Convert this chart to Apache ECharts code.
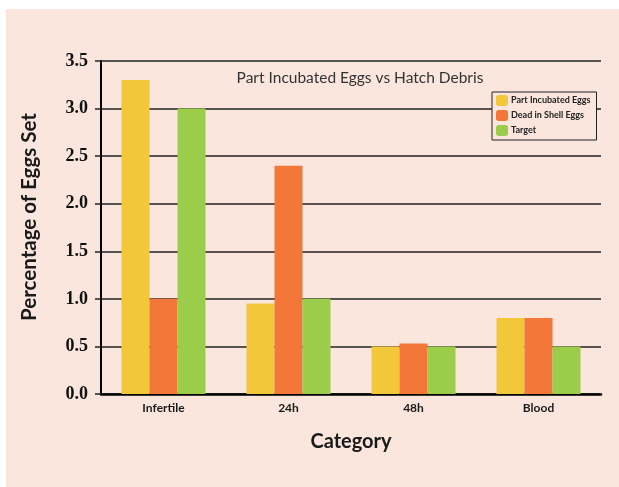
<!DOCTYPE html>
<html><head><meta charset="utf-8">
<script src="https://cdn.jsdelivr.net/npm/echarts@6/dist/echarts.min.js"></script>
<style>html,body{margin:0;padding:0;background:#fff;}#wrap{position:absolute;left:6px;top:9px;width:613px;height:478px;background:#FAE6DC;}#c{position:absolute;left:-6px;top:-9px;width:619px;height:487px;}</style>
</head><body><div id="wrap"><div id="c"></div></div>
<script>
const categories = ['Infertile', '24h', '48h', 'Blood'];
const partIncubated = [3.3, 0.95, 0.5, 0.8];
const deadInShell = [1.0, 2.4, 0.53, 0.8];
const target = [3.0, 1.0, 0.5, 0.5];
const seriesNames = ['Part Incubated Eggs', 'Dead in Shell Eggs', 'Target'];
const colors = ['#F2C73A', '#F27738', '#9BCD4B'];

const chart = echarts.init(document.getElementById('c'));
chart.setOption({
  backgroundColor: 'transparent',
  animation: false,
  title: {
    text: 'Part Incubated Eggs vs Hatch Debris',
    left: 355, top: 65, textAlign: 'center',
    textStyle: {fontFamily: 'Lato', fontWeight: 'normal', fontSize: 15.5, color: '#333'}
  },
  graphic: [{
    type: 'text', x: 29, y: 217, rotation: Math.PI / 2,
    style: {text: 'Percentage of Eggs Set', fontFamily: 'Lato', fontWeight: 'bold', fontSize: 20.5,
      fill: '#1a1a1a', textAlign: 'center', textVerticalAlign: 'middle'}
  }],
  legend: {
    orient: 'vertical', left: 492, top: 92,
    itemWidth: 12, itemHeight: 11, itemGap: 4,
    padding: [3, 6, 4, 4],
    backgroundColor: '#FAE6DC', borderColor: '#222', borderWidth: 1,
    textStyle: {fontFamily: 'Lato', fontWeight: 'bold', fontSize: 9, color: '#222', padding: [0,0,0,-2]},
    data: seriesNames
  },
  grid: {left: 101, right: 18, top: 61, bottom: 93},
  xAxis: {
    type: 'category', data: categories,
    name: 'Category', nameLocation: 'middle', nameGap: 38,
    nameTextStyle: {fontFamily: 'Lato', fontWeight: 'bold', fontSize: 20, color: '#1a1a1a'},
    axisLine: {lineStyle: {color: '#000', width: 2.5}},
    axisTick: {show: false},
    axisLabel: {fontFamily: 'Lato', fontWeight: 'bold', fontSize: 12, color: '#1a1a1a', margin: 8}
  },
  yAxis: {
    type: 'value', min: 0, max: 3.5, interval: 0.5,
    axisLine: {show: true, lineStyle: {color: '#000', width: 2}},
    axisTick: {show: true, length: 6, lineStyle: {color: '#222', width: 1.5}},
    axisLabel: {fontFamily: 'Liberation Serif', fontWeight: 'bold', fontSize: 18, color: '#111', margin: 13,
      formatter: v => v.toFixed(1)},
    splitLine: {lineStyle: {color: '#222', width: 1.5}}
  },
  series: seriesNames.map((n, i) => ({
    name: n, type: 'bar', barWidth: 28, barGap: '0%',
    itemStyle: {color: colors[i]},
    data: [partIncubated, deadInShell, target][i]
  }))
});
</script></body></html>
